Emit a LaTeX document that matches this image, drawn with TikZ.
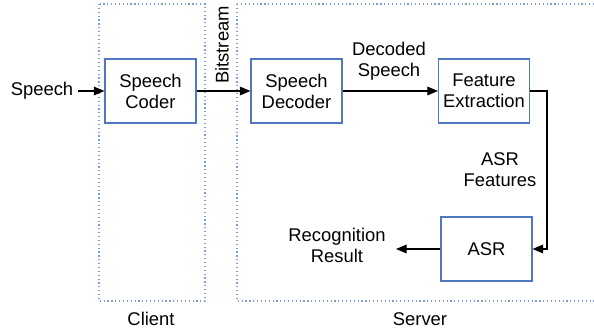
\documentclass[tikz,border=0pt]{standalone}
\usepackage{fontspec}
\setmainfont{Liberation Sans}
\usetikzlibrary{arrows.meta}
\definecolor{boxblue}{RGB}{80,120,192}
\definecolor{dotblue}{RGB}{125,155,210}

\begin{document}
\begin{tikzpicture}[x=0.75pt,y=-0.75pt]
    % ===== STYLES =====
    \tikzset{
        boxtext/.style={
            align=center,
            font=\fontsize{13.8}{15.8}\selectfont,
            text=black
        },
        block/.style={
            boxtext, draw=boxblue, line width=0.8pt,
            minimum width=68.25pt, minimum height=48pt
        },
        flow/.style={-{Triangle[length=8pt,width=6.5pt]}, line width=0.9pt},
        zone/.style={draw=dotblue, dotted, line width=0.9pt}
    }
    \useasboundingbox (0,0) rectangle (594,335);

    % ===== ZONES =====
    \draw[zone] (99,4) rectangle (205,301);
    \draw[zone] (237,4) rectangle (600,301);
    \node[boxtext] (client) at (151,319) {Client};
    \node[boxtext] (server) at (420,319) {Server};

    % ===== BLOCKS =====
    \node[block] (coder)   at (150.5,91) {Speech\\Coder};
    \node[block] (decoder) at (296.5,91) {Speech\\Decoder};
    \node[block] (feat)    at (484,91)   {Feature\\Extraction};
    \node[block] (asr)     at (486.5,249) {ASR};

    % ===== LABELS =====
    \node[boxtext] (speech) at (42,91) {Speech};
    \node[boxtext, rotate=90] (bits) at (222,45) {Bitstream};
    \node[boxtext] (decoded) at (389,61) {Decoded\\Speech};
    \node[boxtext] (asrfeat) at (500,170) {ASR\\Features};
    \node[boxtext] (result) at (337,245) {Recognition\\Result};
    \coordinate (resin) at (396,249);

    % ===== CONNECTORS =====
    \draw[flow] (speech.east) -- (coder.west);
    \draw[flow] (coder.east) -- (decoder.west);
    \draw[flow] (decoder.east) -- (feat.west);
    \draw[flow] (feat.east) -- ++(17,0) |- (asr.east);
    \draw[flow] (asr.west) -- (resin);
\end{tikzpicture}
\end{document}
